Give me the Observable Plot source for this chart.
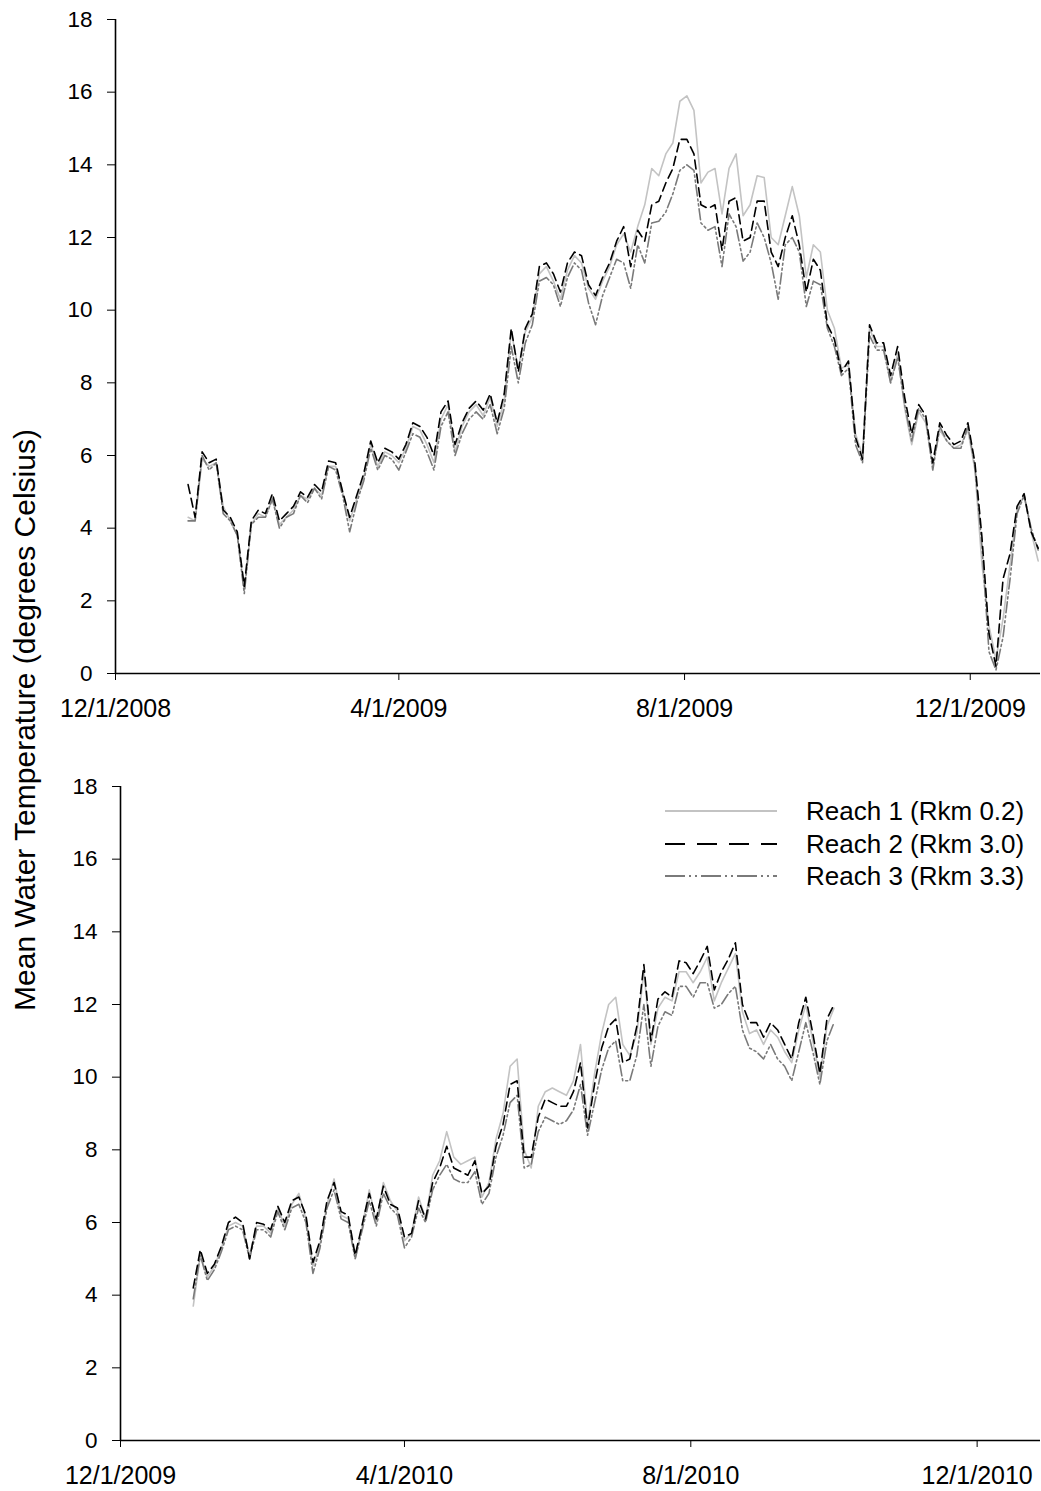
<!DOCTYPE html>
<html><head><meta charset="utf-8">
<script src="https://cdn.jsdelivr.net/npm/d3@7"></script>
<script src="https://cdn.jsdelivr.net/npm/@observablehq/plot@0.6"></script>
<style>
body{margin:0;background:#fff;font-family:"Liberation Sans",Arial,sans-serif;}
#wrap{position:relative;width:1041px;height:1491px;overflow:hidden;}
#top,#bottom{position:absolute;left:0;}
#top{top:0;}
#bottom{top:735px;}
#ylabel{position:absolute;left:25px;top:720px;transform:translate(-50%,-50%) rotate(-90deg);white-space:nowrap;font-size:30px;color:#000;}
#legend{position:absolute;left:0;top:0;}
</style></head><body>
<div id="wrap">
<div id="top"></div>
<div id="bottom"></div>
<div id="ylabel">Mean Water Temperature (degrees Celsius)</div>
<svg id="legend" width="1041" height="1491"></svg>
</div>
<script>
// ---- data (3-day samples) ----
const stepDays = 3;
const start2009 = "2009-01-01";
const start2010 = "2010-01-01";

const reach1_2009 = [4.3,4.2,5.9,5.7,5.8,4.6,4.2,3.8,2.3,4.1,4.4,4.3,4.8,4.1,4.3,4.5,4.9,4.8,5.1,4.9,5.7,5.7,5.0,4.2,4.8,5.4,6.3,5.7,6.1,6.0,5.8,6.2,6.8,6.7,6.3,5.8,7.0,7.4,6.1,6.8,7.2,7.4,7.1,7.6,6.8,7.5,9.4,8.4,9.4,9.8,11.0,11.2,10.8,10.3,11.1,11.5,11.3,10.6,10.3,10.8,11.2,11.8,
12.1,11.6,12.3,12.9,13.9,13.7,14.3,14.6,15.75,15.9,15.5,13.5,13.8,13.9,12.65,13.9,14.3,12.6,12.9,13.7,13.65,12.0,11.8,12.6,13.4,12.6,10.9,11.8,11.6,10.0,9.5,
8.4,8.5,6.6,6.0,9.5,9.0,9.0,8.0,8.8,7.3,6.3,7.2,6.9,5.7,6.7,6.4,6.2,6.3,6.7,5.6,3.0,1.3,0.4,1.5,3.0,4.5,4.9,3.9,3.1];
const reach2_2009 = [5.2,4.3,6.1,5.8,5.9,4.5,4.3,3.9,2.4,4.2,4.5,4.4,4.95,4.2,4.4,4.6,5.0,4.85,5.2,5.0,5.85,5.8,5.0,4.3,4.9,5.5,6.4,5.8,6.2,6.1,5.9,6.3,6.9,6.8,6.5,6.0,7.2,7.5,6.3,6.9,7.3,7.5,7.25,7.7,6.9,7.7,9.5,8.3,9.5,9.9,11.2,11.3,11.0,10.5,11.3,11.6,11.5,10.7,10.4,10.9,11.3,11.9,
12.3,11.2,12.2,11.9,12.9,13.0,13.5,13.9,14.7,14.7,14.3,12.9,12.8,12.9,11.65,13.0,13.1,11.9,12.0,13.0,13.0,11.6,11.2,12.0,12.6,11.8,10.5,11.4,11.1,9.6,9.2,
8.3,8.6,6.5,5.9,9.6,9.1,9.1,8.2,9.0,7.6,6.6,7.4,7.1,5.8,6.9,6.55,6.3,6.4,6.9,5.8,3.75,1.1,0.2,2.6,3.3,4.6,4.95,3.9,3.45];
const reach3_2009 = [4.2,4.2,6.0,5.6,5.8,4.4,4.2,3.8,2.2,4.1,4.3,4.3,4.8,4.0,4.3,4.4,4.9,4.7,5.1,4.8,5.7,5.6,4.9,3.9,4.7,5.3,6.2,5.6,6.0,5.9,5.6,6.1,6.6,6.5,6.1,5.6,6.8,7.2,6.0,6.6,7.0,7.2,7.0,7.4,6.6,7.3,9.0,8.0,9.1,9.6,10.8,10.9,10.7,10.1,10.9,11.3,11.1,10.2,9.6,10.4,10.9,11.4,
11.3,10.6,11.8,11.3,12.4,12.45,12.7,13.2,13.85,14.0,13.85,12.4,12.2,12.3,11.2,12.65,12.3,11.35,11.6,12.4,12.0,11.3,10.3,11.8,12.0,11.6,10.1,10.8,10.7,9.5,9.0,
8.2,8.4,6.3,5.8,9.3,8.9,8.9,8.0,8.7,7.4,6.4,7.3,7.0,5.6,6.8,6.4,6.2,6.2,6.8,5.7,3.5,0.6,0.1,1.0,2.6,4.4,4.9,4.0,3.4];

const reach1_2010 = [3.7,5.1,4.5,4.8,5.3,5.9,6.0,5.9,5.1,5.9,5.9,5.7,6.4,5.9,6.5,6.8,6.1,4.8,5.4,6.5,7.2,6.2,6.1,5.0,5.9,6.9,6.0,7.1,6.6,6.3,5.5,5.7,6.7,6.1,7.3,7.7,8.5,7.8,7.6,7.7,7.8,6.7,7.1,8.3,9.0,10.3,10.5,8.0,7.5,9.2,9.6,9.7,9.6,9.5,9.9,10.9,8.7,10.1,11.2,12.0,12.2,10.9,
10.6,11.2,12.9,10.9,11.9,12.2,12.1,12.9,12.9,12.6,12.9,13.3,12.1,12.6,13.0,13.4,11.8,11.2,11.3,10.9,11.3,11.1,10.7,10.4,11.3,12.0,11.0,10.0,11.4,11.9];
const reach2_2010 = [4.2,5.25,4.6,4.85,5.35,6.0,6.15,6.0,5.0,6.0,5.95,5.8,6.45,6.0,6.6,6.7,6.2,4.9,5.5,6.6,7.1,6.3,6.2,5.1,5.95,6.8,6.1,7.0,6.5,6.4,5.6,5.7,6.6,6.1,7.1,7.5,8.1,7.5,7.4,7.3,7.7,6.8,7.0,8.1,8.7,9.8,9.9,7.8,7.8,8.9,9.4,9.3,9.2,9.2,9.6,10.4,8.6,9.8,10.8,11.4,11.6,10.4,
10.5,11.4,13.1,11.0,12.15,12.35,12.2,13.2,13.15,12.85,13.2,13.6,12.4,12.9,13.25,13.7,12.0,11.5,11.5,11.1,11.5,11.3,10.9,10.5,11.5,12.2,11.2,10.1,11.6,12.0];
const reach3_2010 = [3.9,5.1,4.4,4.7,5.2,5.8,5.9,5.8,5.0,5.8,5.8,5.6,6.3,5.8,6.4,6.5,6.0,4.6,5.3,6.4,6.9,6.1,6.0,5.0,5.8,6.6,5.9,6.8,6.4,6.2,5.3,5.6,6.4,6.0,6.9,7.3,7.6,7.2,7.1,7.1,7.4,6.5,6.8,7.8,8.4,9.3,9.5,7.5,7.6,8.5,8.9,8.8,8.7,8.8,9.1,9.8,8.4,9.3,10.2,10.8,11.0,9.9,
9.9,10.6,12.0,10.3,11.4,11.8,11.7,12.5,12.5,12.2,12.6,12.6,11.9,12.0,12.3,12.5,11.3,10.8,10.7,10.5,10.9,10.5,10.3,9.9,10.7,11.5,10.7,9.8,11.0,11.5];

const xTicks2009 = ["2008-12-01","2009-04-01","2009-08-01","2009-12-01"];
const xTicks2010 = ["2009-12-01","2010-04-01","2010-08-01","2010-12-01"];
const yTicks = [0,2,4,6,8,10,12,14,16,18];
const seriesNames = ["Reach 1 (Rkm 0.2)","Reach 2 (Rkm 3.0)","Reach 3 (Rkm 3.3)"];
const seriesColors = ["#c3c3c3","#000000","#7a7a7a"];
const seriesDash = [null,"9,5","11,3,2,3,2,3"];

// ---- helpers ----
const D = s => new Date(s + "T00:00:00Z");
function toRows(startStr, values) {
  const s = D(startStr);
  return values.map((v, i) => ({date: new Date(s.getTime() + i * stepDays * 86400000), value: v}));
}
const fmt = d => `${d.getUTCMonth()+1}/${d.getUTCDate()}/${d.getUTCFullYear()}`;

function panel({series, domain, ticks, height, marginTop, marginBottom, marginLeft}) {
  const order = [0, 2, 1];
  const marks = [];
  for (const k of order) {
    const opts = {x: "date", y: "value", stroke: seriesColors[k], strokeWidth: 1.6};
    if (seriesDash[k]) opts.strokeDasharray = seriesDash[k];
    marks.push(Plot.line(series[k], opts));
  }
  marks.push(Plot.ruleY([0], {stroke: "black", strokeWidth: 1.6}));
  marks.push(Plot.ruleX([domain[0]], {stroke: "black", strokeWidth: 1.6}));
  marks.push(Plot.axisY({ticks: yTicks, tickSize: 8, tickPadding: 15, label: null, fontSize: 22.5, tickFormat: d => String(d)}));
  marks.push(Plot.axisX({ticks: ticks.map(D), tickSize: 7, tickPadding: 19, label: null, fontSize: 25, tickFormat: fmt}));
  return Plot.plot({
    width: 1041, height, marginTop, marginBottom, marginLeft, marginRight: 1,
    x: {type: "utc", domain},
    y: {domain: [0, 18]},
    style: {fontSize: "22px", fontFamily: "'Liberation Sans', Arial, sans-serif", color: "black", background: "white", overflow: "visible"},
    marks
  });
}

document.getElementById("top").appendChild(panel({
  series: [toRows(start2009, reach1_2009), toRows(start2009, reach2_2009), toRows(start2009, reach3_2009)],
  domain: [D("2008-12-01"), D("2009-12-31")], ticks: xTicks2009,
  height: 735, marginTop: 19, marginBottom: 62, marginLeft: 115
}));
document.getElementById("bottom").appendChild(panel({
  series: [toRows(start2010, reach1_2010), toRows(start2010, reach2_2010), toRows(start2010, reach3_2010)],
  domain: [D("2009-12-01"), D("2010-12-28")], ticks: xTicks2010,
  height: 756, marginTop: 51, marginBottom: 51, marginLeft: 120
}));

// ---- legend ----
const lg = d3.select("#legend");
const legY = [811, 844, 876];
seriesNames.forEach((name, k) => {
  lg.append("line").attr("x1", 665).attr("x2", 777).attr("y1", legY[k]).attr("y2", legY[k])
    .attr("stroke", seriesColors[k]).attr("stroke-width", 1.8)
    .attr("stroke-dasharray", k === 1 ? "20,12" : (k === 2 ? "20,4,2,4,2,4" : null));
  lg.append("text").attr("x", 806).attr("y", legY[k]).attr("dy", "0.36em")
    .attr("font-size", 26).attr("font-family", "'Liberation Sans', Arial, sans-serif").text(name);
});
</script>
</body></html>
